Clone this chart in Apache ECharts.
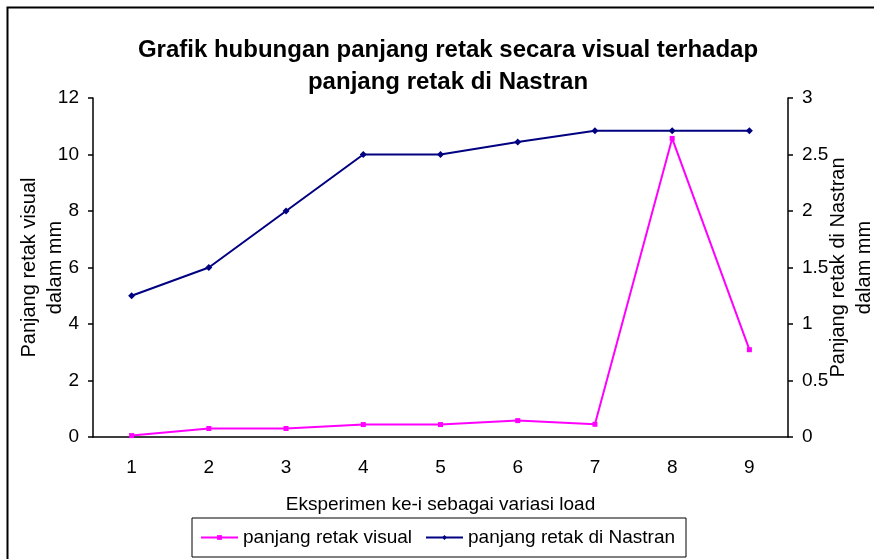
<!DOCTYPE html>
<html>
<head>
<meta charset="utf-8">
<script src="https://cdn.jsdelivr.net/npm/echarts@6/dist/echarts.min.js"></script>
<style>
  html, body { margin: 0; padding: 0; background: #fff; }
  #chart { width: 874px; height: 559px; }
</style>
</head>
<body>
<div id="chart"></div>
<script>
// data
var eksperimen = ['1', '2', '3', '4', '5', '6', '7', '8', '9'];
var retakVisual = [0.05, 0.3, 0.3, 0.44, 0.44, 0.58, 0.45, 10.57, 3.09];   // left axis
var retakNastran = [1.25, 1.5, 2.0, 2.5, 2.5, 2.61, 2.71, 2.71, 2.71];     // right axis
var kiriTicks = { min: 0, max: 12, interval: 2 };
var kananTicks = { min: 0, max: 3, interval: 0.5 };

var font = 'Liberation Sans, Arial, sans-serif';
var chart = echarts.init(document.getElementById('chart'));

chart.setOption({
    backgroundColor: '#fff',
    animation: false,
    title: {
        text: 'Grafik hubungan panjang retak secara visual terhadap\npanjang retak di Nastran',
        left: 443,
        top: 29,
        textAlign: 'center',
        textStyle: {
            fontFamily: font,
            fontSize: 24,
            fontWeight: 'bold',
            color: '#000',
            lineHeight: 32
        }
    },
    graphic: [{
        type: 'rect',
        shape: { x: 7.5, y: 7.5, width: 900, height: 600 },
        style: { fill: 'none', stroke: '#000', lineWidth: 2 },
        silent: true
    }],
    grid: {
        left: 93,
        right: 86,
        top: 98,
        bottom: 122,
        outerBoundsMode: 'none'
    },
    legend: {
        data: ['panjang retak visual', 'panjang retak di Nastran'],
        left: 192,
        top: 518,
        borderColor: '#000',
        borderWidth: 1,
        padding: [10, 11, 10, 8],
        itemWidth: 37,
        itemHeight: 6,
        itemGap: 13,
        textStyle: { fontFamily: font, fontSize: 19, color: '#000' }
    },
    xAxis: {
        type: 'category',
        data: eksperimen,
        boundaryGap: true,
        name: 'Eksperimen ke-i sebagai variasi load',
        nameLocation: 'middle',
        nameGap: 58,
        nameMoveOverlap: false,
        nameTextStyle: { fontFamily: font, fontSize: 19, color: '#000' },
        axisLine: { lineStyle: { color: '#000', width: 1.5 } },
        axisTick: { length: 5, lineStyle: { color: '#000', width: 1.5 } },
        axisLabel: { margin: 21, fontFamily: font, fontSize: 19, color: '#000' },
        splitLine: { show: false }
    },
    yAxis: [{
        type: 'value',
        position: 'left',
        min: kiriTicks.min,
        max: kiriTicks.max,
        interval: kiriTicks.interval,
        name: 'Panjang retak visual\ndalam mm',
        nameLocation: 'middle',
        nameRotate: 90,
        nameGap: 25,
        nameMoveOverlap: false,
        nameTextStyle: { fontFamily: font, fontSize: 20, color: '#000', lineHeight: 26 },
        axisLine: { show: true, lineStyle: { color: '#000', width: 1.5 } },
        axisTick: { show: true, length: 5, lineStyle: { color: '#000', width: 1.5 } },
        axisLabel: { margin: 14, fontFamily: font, fontSize: 19, color: '#000' },
        splitLine: { show: false }
    }, {
        type: 'value',
        position: 'right',
        min: kananTicks.min,
        max: kananTicks.max,
        interval: kananTicks.interval,
        name: 'Panjang retak di Nastran\ndalam mm',
        nameLocation: 'middle',
        nameRotate: 90,
        nameGap: 37,
        nameMoveOverlap: false,
        nameTextStyle: { fontFamily: font, fontSize: 20, color: '#000', lineHeight: 26 },
        axisLine: { show: true, lineStyle: { color: '#000', width: 1.5 } },
        axisTick: { show: true, length: 5, lineStyle: { color: '#000', width: 1.5 } },
        axisLabel: { margin: 14, fontFamily: font, fontSize: 19, color: '#000' },
        splitLine: { show: false }
    }],
    series: [{
        name: 'panjang retak visual',
        type: 'line',
        yAxisIndex: 0,
        data: retakVisual,
        symbol: 'rect',
        symbolSize: 5,
        lineStyle: { color: '#ff00ff', width: 2 },
        itemStyle: { color: '#ff00ff' }
    }, {
        name: 'panjang retak di Nastran',
        type: 'line',
        yAxisIndex: 1,
        data: retakNastran,
        symbol: 'diamond',
        symbolSize: 7,
        lineStyle: { color: '#000080', width: 2 },
        itemStyle: { color: '#000080' }
    }]
});
</script>
</body>
</html>
